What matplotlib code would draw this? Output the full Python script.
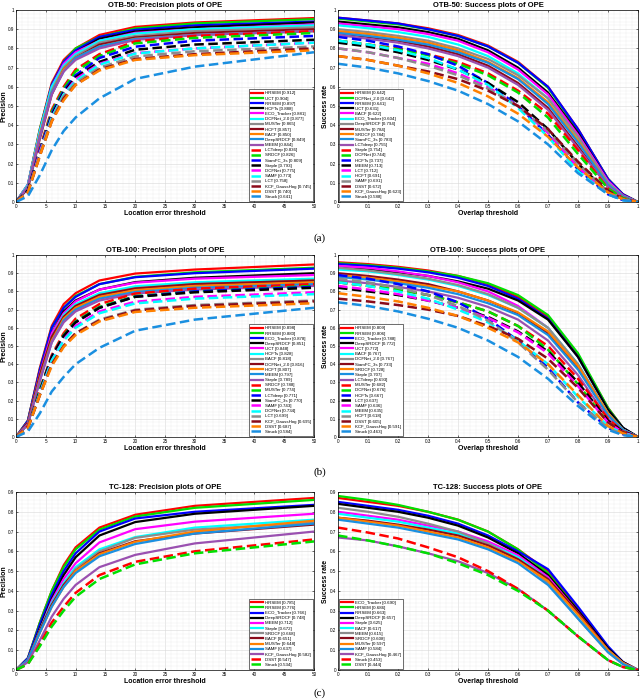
import matplotlib
matplotlib.use('Agg')
import matplotlib.pyplot as plt
from matplotlib.ticker import MultipleLocator, FuncFormatter

plt.rcParams['font.family'] = ['Liberation Sans', 'DejaVu Sans']

prec_x = [0, 2, 4, 6, 8, 10, 14, 20, 30, 50]
succ_x = [0, .1, .2, .3, .4, .5, .6, .7, .8, .9, .95, 1.0]

# ---- OTB-50 precision ----
otb50_prec_names = ['HRSEM [0.912]', 'UCT [0.904]', 'RRSEM [0.897]', 'HCFTs [0.888]', 'ECO_Tracker [0.881]',
                    'DCFNet_2.0 [0.877]', 'MUSTer [0.865]', 'HCFT [0.857]', 'BACF [0.850]', 'DeepSRDCF [0.849]',
                    'MEEM [0.844]', 'LCTdeep [0.836]', 'SRDCF [0.826]', 'SiamFC_3s [0.809]', 'Staple [0.793]',
                    'DCFNet [0.775]', 'SAMF [0.773]', 'LCT [0.758]', 'KCF_GaussHog [0.745]', 'DSST [0.740]',
                    'Struck [0.641]']
otb50_prec = [
    [0, .09, .38, .62, .74, .80, .87, .912, .935, .958],
    [0, .09, .38, .61, .73, .80, .86, .904, .93, .952],
    [0, .09, .37, .61, .73, .79, .86, .897, .92, .94],
    [0, .08, .36, .59, .71, .78, .85, .888, .91, .935],
    [0, .09, .37, .60, .72, .78, .84, .881, .90, .925],
    [0, .09, .37, .60, .71, .77, .84, .877, .90, .92],
    [0, .08, .35, .58, .70, .76, .83, .865, .89, .91],
    [0, .07, .33, .56, .69, .75, .82, .857, .88, .90],
    [0, .08, .35, .57, .69, .75, .81, .850, .87, .89],
    [0, .08, .34, .57, .68, .75, .81, .849, .87, .89],
    [0, .08, .34, .56, .68, .74, .80, .844, .87, .89],
    [0, .06, .28, .48, .60, .69, .77, .836, .865, .89],
    [0, .06, .27, .47, .59, .68, .76, .826, .855, .88],
    [0, .06, .27, .46, .58, .66, .75, .809, .84, .865],
    [0, .06, .26, .45, .57, .65, .73, .793, .82, .845],
    [0, .05, .26, .44, .56, .64, .72, .775, .80, .83],
    [0, .05, .25, .44, .56, .63, .715, .773, .80, .83],
    [0, .05, .25, .43, .55, .62, .70, .758, .785, .81],
    [0, .05, .24, .42, .54, .61, .69, .745, .77, .80],
    [0, .05, .24, .42, .53, .61, .685, .740, .765, .79],
    [0, .03, .14, .27, .37, .44, .54, .641, .705, .78],
]

# ---- OTB-50 success ----
otb50_succ_names = ['HRSEM [0.642]', 'DCFNet_2.0 [0.642]', 'RRSEM [0.641]', 'UCT [0.631]', 'BACF [0.622]',
                    'ECO_Tracker [0.604]', 'DeepSRDCF [0.794]', 'MUSTer [0.784]', 'SRDCF [0.784]',
                    'SiamFC_3s [0.783]', 'LCTdeep [0.755]', 'Staple [0.754]', 'DCFNet [0.744]', 'HCFTs [0.737]',
                    'MEEM [0.713]', 'LCT [0.712]', 'HCFT [0.691]', 'SAMF [0.691]', 'DSST [0.672]',
                    'KCF_GaussHog [0.623]', 'Struck [0.588]']
otb50_succ = [
    [.96, .945, .93, .905, .87, .815, .73, .60, .38, .12, .04, 0],
    [.955, .94, .925, .90, .865, .81, .725, .595, .375, .12, .04, 0],
    [.96, .945, .93, .90, .865, .81, .725, .60, .38, .12, .04, 0],
    [.94, .925, .91, .885, .85, .79, .70, .57, .36, .11, .035, 0],
    [.93, .915, .90, .875, .84, .78, .69, .56, .35, .11, .035, 0],
    [.92, .905, .885, .86, .82, .76, .67, .54, .33, .10, .03, 0],
    [.90, .885, .865, .84, .80, .745, .66, .54, .34, .10, .03, 0],
    [.88, .86, .84, .81, .77, .71, .62, .49, .29, .08, .025, 0],
    [.89, .875, .855, .83, .79, .73, .645, .52, .32, .09, .03, 0],
    [.88, .865, .845, .82, .78, .725, .64, .51, .31, .09, .03, 0],
    [.87, .85, .83, .80, .76, .70, .61, .48, .28, .08, .025, 0],
    [.84, .82, .80, .77, .73, .67, .58, .46, .27, .07, .02, 0],
    [.84, .82, .795, .765, .72, .66, .57, .44, .25, .07, .02, 0],
    [.86, .84, .81, .77, .71, .62, .50, .35, .17, .04, .01, 0],
    [.83, .81, .78, .74, .69, .62, .52, .38, .20, .05, .015, 0],
    [.80, .78, .75, .72, .67, .60, .50, .36, .18, .05, .015, 0],
    [.84, .82, .79, .75, .69, .61, .49, .34, .16, .04, .01, 0],
    [.80, .78, .75, .71, .66, .59, .50, .37, .20, .05, .015, 0],
    [.76, .74, .71, .68, .64, .58, .50, .38, .21, .06, .015, 0],
    [.76, .74, .71, .67, .62, .55, .46, .34, .18, .05, .015, 0],
    [.72, .70, .67, .63, .58, .51, .42, .30, .15, .04, .01, 0],
]

# ---- OTB-100 precision ----
otb100_prec_names = ['HRSEM [0.898]', 'RRSEM [0.880]', 'ECO_Tracker [0.878]', 'DeepSRDCF [0.851]', 'UCT [0.848]',
                     'HCFTs [0.828]', 'BACF [0.818]', 'DCFNet_2.0 [0.816]', 'HCFT [0.807]', 'MEEM [0.797]',
                     'Staple [0.789]', 'SRDCF [0.788]', 'MUSTer [0.774]', 'LCTdeep [0.771]', 'SiamFC_3s [0.770]',
                     'SAMF [0.743]', 'DCFNet [0.734]', 'LCT [0.699]', 'KCF_GaussHog [0.695]', 'DSST [0.687]',
                     'Struck [0.584]']
otb100_prec = [
    [0, .09, .38, .61, .73, .79, .86, .898, .92, .948],
    [0, .09, .37, .60, .71, .775, .84, .880, .905, .93],
    [0, .09, .37, .60, .71, .77, .84, .878, .90, .925],
    [0, .08, .35, .57, .69, .75, .81, .851, .875, .90],
    [0, .08, .35, .57, .68, .745, .81, .848, .87, .89],
    [0, .07, .33, .55, .67, .73, .79, .828, .85, .87],
    [0, .08, .34, .55, .66, .72, .78, .818, .84, .86],
    [0, .08, .34, .55, .66, .72, .78, .816, .84, .86],
    [0, .07, .32, .53, .65, .71, .77, .807, .83, .85],
    [0, .07, .31, .52, .64, .70, .76, .797, .82, .84],
    [0, .07, .31, .52, .63, .69, .75, .789, .81, .83],
    [0, .06, .26, .45, .57, .65, .73, .788, .815, .84],
    [0, .05, .26, .44, .56, .635, .715, .774, .80, .83],
    [0, .05, .25, .44, .555, .63, .71, .771, .80, .825],
    [0, .05, .25, .44, .555, .63, .71, .770, .795, .82],
    [0, .05, .24, .42, .535, .61, .69, .743, .77, .795],
    [0, .05, .24, .42, .53, .60, .68, .734, .76, .785],
    [0, .05, .23, .40, .50, .57, .645, .699, .725, .75],
    [0, .05, .23, .40, .50, .57, .64, .695, .72, .745],
    [0, .05, .23, .39, .495, .56, .635, .687, .71, .735],
    [0, .03, .13, .25, .33, .40, .49, .584, .645, .71],
]

# ---- OTB-100 success ----
otb100_succ_names = ['HRSEM [0.809]', 'RRSEM [0.806]', 'ECO_Tracker [0.788]', 'DeepSRDCF [0.772]', 'UCT [0.772]',
                     'BACF [0.767]', 'DCFNet_2.0 [0.767]', 'SiamFC_3s [0.733]', 'SRDCF [0.728]', 'Staple [0.707]',
                     'LCTdeep [0.693]', 'MUSTer [0.682]', 'DCFNet [0.676]', 'HCFTs [0.667]', 'LCT [0.637]',
                     'SAMF [0.636]', 'MEEM [0.635]', 'HCFT [0.618]', 'DSST [0.605]', 'KCF_GaussHog [0.591]',
                     'Struck [0.463]']
otb100_succ = [
    [.96, .95, .935, .915, .885, .84, .77, .66, .45, .16, .05, 0],
    [.955, .945, .93, .91, .885, .845, .78, .67, .46, .16, .05, 0],
    [.95, .94, .925, .905, .875, .83, .76, .65, .44, .15, .05, 0],
    [.93, .92, .905, .885, .855, .815, .75, .645, .44, .15, .05, 0],
    [.94, .93, .91, .885, .85, .80, .72, .60, .39, .12, .04, 0],
    [.92, .91, .89, .865, .83, .78, .71, .60, .40, .13, .04, 0],
    [.93, .915, .895, .87, .835, .785, .71, .60, .40, .13, .04, 0],
    [.90, .885, .865, .84, .80, .75, .68, .57, .38, .12, .04, 0],
    [.89, .875, .855, .83, .80, .75, .685, .58, .39, .13, .04, 0],
    [.88, .865, .845, .82, .785, .735, .67, .56, .37, .12, .04, 0],
    [.86, .845, .825, .80, .765, .715, .645, .53, .34, .10, .03, 0],
    [.85, .83, .81, .78, .74, .69, .61, .50, .32, .10, .03, 0],
    [.85, .83, .81, .78, .74, .69, .61, .48, .29, .08, .025, 0],
    [.89, .87, .84, .80, .74, .65, .53, .38, .19, .05, .015, 0],
    [.82, .80, .78, .75, .71, .66, .58, .47, .30, .09, .03, 0],
    [.83, .81, .785, .75, .71, .655, .575, .46, .28, .08, .025, 0],
    [.85, .83, .80, .76, .70, .63, .53, .40, .22, .06, .02, 0],
    [.87, .85, .82, .78, .72, .64, .52, .37, .19, .05, .015, 0],
    [.76, .745, .725, .70, .665, .61, .54, .43, .27, .08, .025, 0],
    [.79, .77, .745, .71, .665, .60, .52, .40, .23, .06, .02, 0],
    [.74, .72, .69, .65, .60, .53, .44, .32, .17, .04, .01, 0],
]

# ---- TC-128 precision ----
tc128_prec_names = ['HRSEM [0.785]', 'RRSEM [0.776]', 'ECO_Tracker [0.766]', 'DeepSRDCF [0.748]', 'MEEM [0.712]',
                    'Staple [0.672]', 'SRDCF [0.668]', 'BACF [0.651]', 'MUSTer [0.648]', 'SAMF [0.637]',
                    'KCF_GaussHog [0.582]', 'DSST [0.547]', 'Struck [0.534]']
tc128_prec = [
    [0, .06, .24, .40, .53, .62, .72, .785, .83, .87],
    [0, .06, .24, .40, .52, .61, .71, .776, .82, .86],
    [0, .06, .23, .38, .50, .59, .70, .766, .80, .835],
    [0, .05, .21, .36, .48, .57, .68, .748, .79, .83],
    [0, .05, .20, .35, .46, .54, .645, .712, .75, .79],
    [0, .05, .20, .34, .44, .52, .61, .672, .72, .76],
    [0, .05, .19, .33, .43, .51, .60, .668, .71, .745],
    [0, .05, .20, .33, .43, .50, .59, .651, .69, .735],
    [0, .05, .19, .32, .42, .50, .585, .648, .70, .755],
    [0, .05, .19, .32, .42, .49, .575, .637, .69, .74],
    [0, .04, .15, .27, .36, .43, .52, .582, .64, .70],
    [0, .03, .13, .24, .32, .39, .48, .547, .60, .66],
    [0, .03, .12, .22, .30, .37, .46, .534, .59, .65],
]

# ---- TC-128 success ----
tc128_succ_names = ['ECO_Tracker [0.690]', 'HRSEM [0.686]', 'RRSEM [0.663]', 'DeepSRDCF [0.657]', 'Staple [0.625]',
                    'BACF [0.617]', 'MEEM [0.615]', 'SRDCF [0.608]', 'MUSTer [0.597]', 'SAMF [0.584]',
                    'KCF_GaussHog [0.467]', 'Struck [0.453]', 'DSST [0.444]']
tc128_succ = [
    [.87, .85, .83, .80, .76, .70, .61, .50, .31, .11, .04, 0],
    [.88, .86, .835, .80, .76, .70, .61, .49, .30, .10, .035, 0],
    [.85, .83, .81, .78, .74, .68, .60, .51, .32, .12, .04, 0],
    [.84, .82, .80, .77, .73, .67, .59, .48, .30, .11, .04, 0],
    [.80, .78, .76, .73, .70, .65, .58, .47, .29, .10, .035, 0],
    [.79, .77, .75, .72, .69, .64, .57, .46, .28, .10, .035, 0],
    [.82, .80, .775, .74, .70, .64, .56, .44, .26, .09, .03, 0],
    [.77, .755, .735, .71, .68, .63, .56, .46, .29, .10, .035, 0],
    [.77, .75, .73, .70, .67, .62, .55, .45, .28, .10, .035, 0],
    [.76, .74, .72, .69, .66, .61, .54, .43, .26, .09, .03, 0],
    [.67, .655, .625, .59, .55, .49, .41, .30, .17, .05, .015, 0],
    [.72, .695, .665, .62, .57, .50, .41, .30, .17, .05, .015, 0],
    [.68, .655, .625, .59, .54, .48, .40, .30, .17, .05, .015, 0],
]

colors = ['#ff0000', '#00e000', '#0000ff', '#000000', '#ff00ff', '#00ffff', '#8c8c8c',
          '#8b0a1a', '#ff8000', '#1a8fe0', '#9a50b0']


def draw(ax, x, names, curves, title, kind, ymax, label_x):
    for i, (name, y) in enumerate(zip(names, curves)):
        c = colors[i % 11]
        if i < 11:
            ax.plot(x, y, color=c, lw=1.6, label=name)
        else:
            ax.plot(x, y, color=c, lw=1.8, linestyle=(0, (3.8, 1.8)), label=name)
    ax.set_title(title, fontsize=5.5, fontweight='bold', pad=2)
    if kind == 'prec':
        ax.set_xlim(0, 50)
        ax.xaxis.set_major_locator(MultipleLocator(5))
        ax.xaxis.set_minor_locator(MultipleLocator(1))
        ax.set_xlabel('Location error threshold', fontsize=5, fontweight='bold', labelpad=1)
        ax.set_ylabel('Precision', fontsize=5, fontweight='bold')
        loc = 'lower right'
    else:
        ax.set_xlim(0, 1)
        ax.xaxis.set_major_locator(MultipleLocator(0.1))
        ax.xaxis.set_minor_locator(MultipleLocator(0.02))
        ax.set_xlabel('Overlap threshold', fontsize=5, fontweight='bold', labelpad=1)
        ax.set_ylabel('Success rate', fontsize=5, fontweight='bold')
        loc = 'lower left'
    ax.yaxis.set_label_coords(label_x, 0.5)
    ax.set_ylim(0, ymax)
    ax.yaxis.set_major_locator(MultipleLocator(0.1))
    ax.yaxis.set_minor_locator(MultipleLocator(0.02))
    fmt = FuncFormatter(lambda v, p: '%g' % round(v, 2))
    ax.xaxis.set_major_formatter(fmt)
    ax.yaxis.set_major_formatter(fmt)
    ax.grid(which='major', color='#d8d8d8', lw=0.4)
    ax.grid(which='minor', color='#ececec', lw=0.3)
    ax.tick_params(which='both', direction='in', top=True, right=True, labelsize=3.3,
                   length=1.5, width=0.4, pad=1.2)
    ax.tick_params(which='minor', length=0)
    for s in ax.spines.values():
        s.set_linewidth(0.5)
    leg = ax.legend(loc=loc, fontsize=3.2, handlelength=2.6, labelspacing=0.24,
                    borderpad=0.4, handletextpad=0.5, fancybox=False, framealpha=1,
                    borderaxespad=0.3)
    leg.get_frame().set_edgecolor('black')
    leg.get_frame().set_linewidth(0.4)


fig = plt.figure(figsize=(6.4, 7.0), dpi=100)
W, H = 640.0, 700.0
rows = [(10, 202), (255, 437), (492, 670)]
lx0, lx1, rx0, rx1 = 16, 314, 338, 638
panels = [
    (otb50_prec_names, otb50_prec, 'OTB-50: Precision plots of OPE', otb50_succ_names, otb50_succ,
     'OTB-50: Success plots of OPE', 1.0),
    (otb100_prec_names, otb100_prec, 'OTB-100: Precision plots of OPE', otb100_succ_names, otb100_succ,
     'OTB-100: Success plots of OPE', 1.0),
    (tc128_prec_names, tc128_prec, 'TC-128: Precision plots of OPE', tc128_succ_names, tc128_succ,
     'TC-128: Success plots of OPE', 0.9),
]
sub = ['(a)', '(b)', '(c)']
sub_y = [238, 472, 693]

for r, ((top, bot), p) in enumerate(zip(rows, panels)):
    b = (H - bot) / H
    h = (bot - top) / H
    axl = fig.add_axes([lx0 / W, b, (lx1 - lx0) / W, h])
    axr = fig.add_axes([rx0 / W, b, (rx1 - rx0) / W, h])
    draw(axl, prec_x, p[0], p[1], p[2], 'prec', p[6], -8.5 / (lx1 - lx0))
    draw(axr, succ_x, p[3], p[4], p[5], 'succ', p[6], -9.0 / (rx1 - rx0))
    fig.text(320 / W, 1 - sub_y[r] / H, sub[r], ha='center', va='center', fontsize=8,
             family=['Liberation Serif', 'DejaVu Serif'])

fig.savefig('out.png', dpi=100)
